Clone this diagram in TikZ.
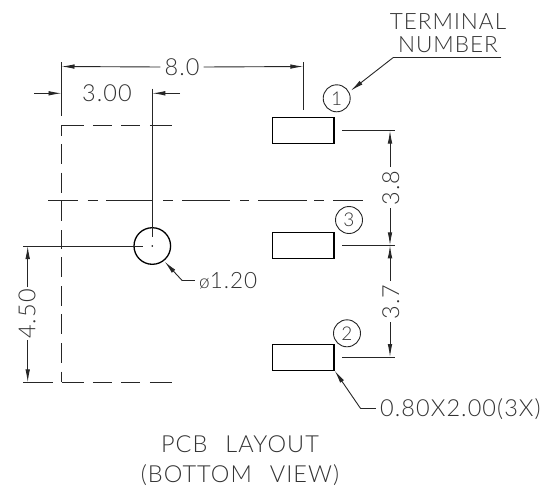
\documentclass[tikz,border=0pt]{standalone}
\usepackage{fontspec}
\usetikzlibrary{arrows.meta}
\newfontfamily\cadfont[LetterSpace=4.5,WordSpace=2.4]{Lato Light}
\tikzset{
  x=1pt,y=-1pt,
  thinl/.style={line width=0.9pt,black!85},
  dimarrow/.style={thinl,-{Latex[length=13pt,width=4.6pt]}},
  dimtext/.style={font=\cadfont\fontsize{23.5}{23.5}\selectfont,text=black!80,inner sep=0pt},
  smalltext/.style={dimtext,font=\cadfont\fontsize{22.5}{22.5}\selectfont},
  pad/.style={draw=black,line width=1.4pt,fill=white,minimum width=61.5pt,minimum height=25.5pt,inner sep=0pt},
  term/.style={draw=black!85,line width=0.9pt,circle,minimum size=27pt,inner sep=0pt,font=\cadfont\fontsize{19}{19}\selectfont,text=black!80},
  hole/.style={draw=black,line width=1.3pt,circle,minimum size=36.6pt,inner sep=0pt},
  outl/.style={line width=1pt,black!85,dash pattern=on 22.3pt off 9pt on 19pt off 9.3pt on 19pt off 9.7pt on 22pt},
  cline/.style={line width=1pt,black!85}
}
\begin{document}
\begin{tikzpicture}
\useasboundingbox (0,0) rectangle (548,488);
% key points
\coordinate (oTL) at (61.5,125.3);
\coordinate (oTR) at (172,125.3);
\coordinate (oBL) at (61.5,382.3);
\coordinate (oBR) at (172,382.3);
\coordinate (e8a) at (61.5,62);
\coordinate (e8aEnd) at (61.5,116);
\coordinate (e8b) at (303.3,62);
\coordinate (e8bEnd) at (303.3,109.5);
\coordinate (d8a) at (61.5,66.5);
\coordinate (d8b) at (303.3,66.5);
\node[dimtext] (t8) at (182,67) {8.0};
\draw[dimarrow] (t8.west) ++(-4,0) -- (d8a);
\draw[dimarrow] (t8.east) ++(4,0) -- (d8b);
\draw[thinl] (e8a) -- (e8aEnd);
\draw[thinl] (e8b) -- (e8bEnd);
% 3.00
\node[dimtext] (t3) at (107,93) {3.00};
\coordinate (a3l) at (34,93.3); \coordinate (b3l) at (61.5,93.3);
\coordinate (a3r) at (180,93.3); \coordinate (b3r) at (152.3,93.3);
\draw[dimarrow] (a3l) -- (b3l);
\draw[dimarrow] (a3r) -- (b3r);
% outline
\draw[outl] (oTL) -- (oTR);
\draw[outl] (oBL) -- (oBR);
% left edge dashes
\foreach \a/\b in {125.3/135.7,144/164.3,172.7/192.7,201/220.7,230/249.3,257.3/277.3,286/306,314.3/334.3,343.3/363.3,371.7/382.3}{
  \draw[cline] (61.5,\a) -- (61.5,\b);
}
% centre line
\foreach \a/\b in {48/78,87.7/97.7,106/153,163/173,182/230,240/249,258/307,314/324,333/363}{
  \draw[cline] (\a,200.7) -- (\b,200.7);
}
% hole
\node[hole] (hole) at (152.3,246) {};
\fill[black] (hole.center) circle (0.9);
\coordinate (vtop) at (152.3,88.5);
\coordinate (vbot) at (152.3,237);
\draw[thinl] (vtop) -- (vbot);
\coordinate (hleft) at (23,246);
\coordinate (hright) at (143,246);
\draw[thinl] (hleft) -- (hright);
% 4.50
\node[dimtext,rotate=90] (t45) at (27,314) {4.50};
\coordinate (d45t) at (27.7,246);
\coordinate (d45b) at (27.7,382.3);
\coordinate (e45a) at (23,382.3);
\coordinate (e45b) at (53,382.3);
\draw[dimarrow] (27.7,287) -- (d45t);
\draw[dimarrow] (27.7,340) -- (d45b);
\draw[thinl] (e45a) -- (e45b);
% pads
\node[pad] (p1) at (303.3,130.5) {};
\node[pad] (p3) at (303.3,245.5) {};
\node[pad] (p2) at (303.3,357.5) {};
\node[term] (c1) at (336.7,98.3) {1};
\node[term] (c3) at (349,220) {3};
\node[term] (c2) at (347,333.3) {2};
% right ext
\foreach \n/\y in {x1/130.5,x3/245.3,x2/357}{
  \coordinate (\n a) at (342.3,\y);
  \coordinate (\n b) at (394.7,\y);
  \coordinate (\n d) at (390,\y);
  \draw[thinl] (\n a) -- (\n b);
}
\node[dimtext,rotate=90] (t38) at (390.7,188) {3.8};
\node[dimtext,rotate=90] (t37) at (390.7,302) {3.7};
\draw[dimarrow] (390,167) -- (x1d);
\draw[dimarrow] (390,208) -- (x3d);
\draw[dimarrow] (390,281) -- (x3d);
\draw[dimarrow] (390,322) -- (x2d);
% terminal number
\node[smalltext] (tt) at (448,22) {TERMINAL};
\node[smalltext] (tn) at (448,45) {NUMBER};
\coordinate (ul) at (393,57.7);
\coordinate (ur) at (501.3,57.7);
\coordinate (ltip) at (350.7,90.7);
\draw[thinl] (ur) -- (ul);
\draw[dimarrow] (ul) -- (ltip);
% hole leader
\node[dimtext,anchor=west] (td) at (199,281) {\fontsize{19}{19}\selectfont ø\fontsize{22.5}{22.5}\selectfont 1.20};
\coordinate (h1) at (182.3,280.7);
\coordinate (h2) at (194.7,280.7);
\coordinate (h3) at (164.7,261.7);
\draw[thinl] (h2) -- (h1);
\draw[dimarrow] (h1) -- (h3);
% pad leader
\node[dimtext,anchor=west] (tp) at (380,409) {0.80X2.00(3X)};
\coordinate (q1) at (360.7,408.7);
\coordinate (q2) at (375.7,408.7);
\coordinate (q3) at (334.7,370.7);
\draw[thinl] (q2) -- (q1);
\draw[dimarrow] (q1) -- (q3);
% title
\node[dimtext] (ta) at (240,444) {PCB LAYOUT};
\node[dimtext] (tb) at (240,475) {(BOTTOM VIEW)};
\end{tikzpicture}
\end{document}
